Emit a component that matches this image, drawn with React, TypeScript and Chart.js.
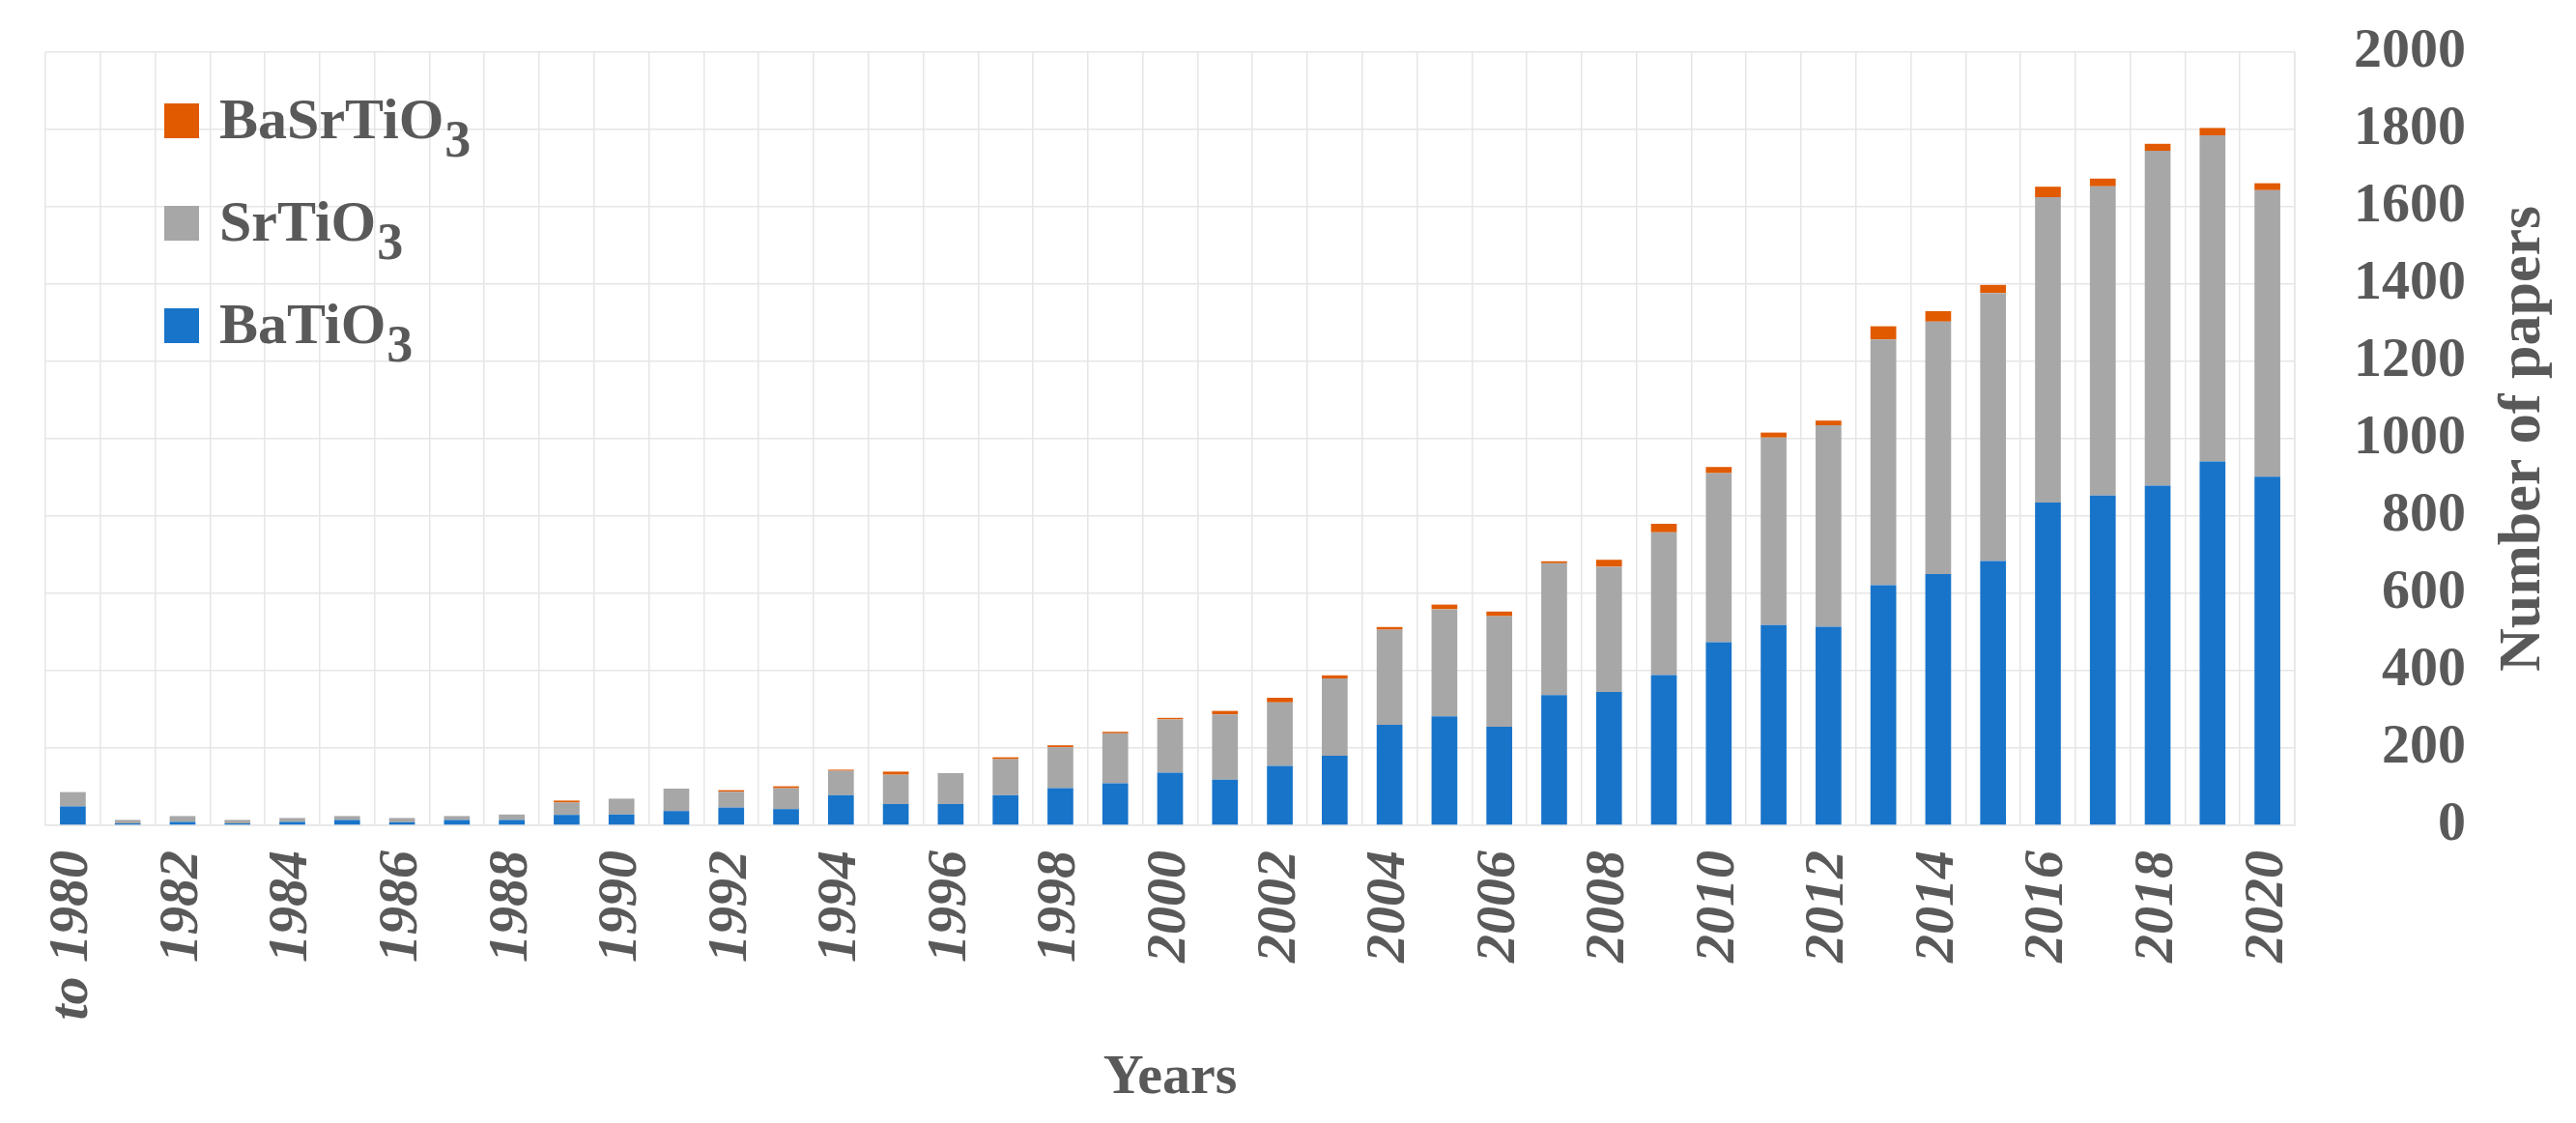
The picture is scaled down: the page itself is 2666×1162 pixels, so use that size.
import React, { useEffect, useRef } from 'react';
import { Chart, registerables } from 'chart.js';

Chart.register(...registerables);

// ---------- data ----------
const years = [
  'to 1980', '1981', '1982', '1983', '1984', '1985', '1986', '1987', '1988', '1989',
  '1990', '1991', '1992', '1993', '1994', '1995', '1996', '1997', '1998', '1999',
  '2000', '2001', '2002', '2003', '2004', '2005', '2006', '2007', '2008', '2009',
  '2010', '2011', '2012', '2013', '2014', '2015', '2016', '2017', '2018', '2019', '2020',
];

const baTiO3 = [
  49, 5, 9, 5, 9, 14, 8, 14, 14, 27,
  28, 37, 46, 42, 78, 55, 55, 78, 96, 109,
  136, 118, 154, 180, 260, 282, 255, 337, 345, 389,
  474, 518, 514, 621, 650, 684, 835, 853, 879, 941, 902,
];

const srTiO3 = [
  37, 9, 15, 9, 10, 10, 11, 10, 14, 32,
  41, 58, 41, 54, 63, 76, 80, 93, 106, 129,
  138, 169, 164, 200, 246, 277, 286, 341, 324, 369,
  437, 485, 521, 636, 653, 693, 790, 800, 866, 844, 741,
];

const baSrTiO3 = [
  0, 0, 0, 0, 0, 0, 0, 0, 0, 5,
  0, 0, 4, 5, 3, 8, 0, 5, 5, 4,
  4, 9, 12, 8, 7, 12, 12, 5, 18, 22,
  16, 13, 12, 34, 27, 21, 27, 20, 18, 19, 18,
];

const seriesNames = ['BaTiO3', 'SrTiO3', 'BaSrTiO3'];
// legend entries (top to bottom): [formula body, subscript]
const legendNames: [string, string][] = [
  ['BaSrTiO', '3'],
  ['SrTiO', '3'],
  ['BaTiO', '3'],
];

const yMin = 0;
const yMax = 2000;
const yStep = 200;
const xTitle = 'Years';
const yTitle = 'Number of papers';

// ---------- styles ----------
const BLUE = '#1874C9';
const GRAY = '#A7A7A7';
const ORANGE = '#E15A00';
const TEXT = '#595959';
const GRID = '#E6E6E6';
const FONT = "'Liberation Serif', 'Times New Roman', serif";

const legendColors = [ORANGE, GRAY, BLUE];

const overlayPlugin = {
  id: 'overlay',
  afterDraw(chart: any) {
    const ctx = chart.ctx;
    const area = chart.chartArea;
    ctx.save();
    // legend
    const size = 60;
    const subSize = 54;
    legendNames.forEach((nm, i) => {
      const top = 107 + i * 106;
      ctx.fillStyle = legendColors[i];
      ctx.fillRect(170, top, 36, 36);
      ctx.fillStyle = TEXT;
      ctx.textAlign = 'left';
      ctx.textBaseline = 'alphabetic';
      ctx.font = `bold ${size}px ${FONT}`;
      const base = top + 36;
      ctx.fillText(nm[0], 227, base);
      const w = ctx.measureText(nm[0]).width;
      ctx.font = `bold ${subSize}px ${FONT}`;
      ctx.fillText(nm[1], 227 + w + 1, base + 19);
    });
    // right axis title, reading bottom to top
    ctx.translate(2612, (area.top + area.bottom) / 2);
    ctx.rotate(-Math.PI / 2);
    ctx.font = `bold 62px ${FONT}`;
    ctx.fillStyle = TEXT;
    ctx.textAlign = 'center';
    ctx.textBaseline = 'middle';
    ctx.fillText(yTitle, 0, 0);
    ctx.restore();
  },
};

export default function App() {
  const ref = useRef<HTMLCanvasElement | null>(null);

  useEffect(() => {
    if (!ref.current) return;
    const chart = new Chart(ref.current, {
      type: 'bar',
      data: {
        labels: years,
        datasets: [
          { label: seriesNames[0], data: baTiO3, backgroundColor: BLUE },
          { label: seriesNames[1], data: srTiO3, backgroundColor: GRAY },
          { label: seriesNames[2], data: baSrTiO3, backgroundColor: ORANGE },
        ].map((d) => ({
          ...d,
          borderWidth: 0,
          categoryPercentage: 1,
          barPercentage: 0.47,
        })),
      },
      options: {
        responsive: false,
        devicePixelRatio: 1,
        animation: false,
        layout: { padding: { left: 47, top: 54, right: 114, bottom: 0 } },
        plugins: {
          legend: { display: false },
          tooltip: { enabled: false },
        },
        scales: {
          x: {
            stacked: true,
            offset: true,
            grid: { color: GRID, lineWidth: 1.5, offset: true, drawTicks: false },
            border: { color: GRID, width: 1.5 },
            ticks: {
              autoSkip: false,
              minRotation: 90,
              maxRotation: 90,
              padding: 26,
              color: TEXT,
              font: { family: FONT, size: 58, style: 'italic', weight: 'bold' },
              callback: (_v: any, i: number) => (i % 2 === 0 ? years[i] : ''),
            },
            title: {
              display: true,
              text: xTitle,
              color: TEXT,
              font: { family: FONT, size: 58, weight: 'bold' },
              padding: { top: 0, bottom: 11 },
            },
            afterFit: (s: any) => {
              s.height = 308;
              s.paddingLeft = 0;
              s.paddingRight = 0;
            },
          },
          y: {
            stacked: true,
            position: 'right',
            min: yMin,
            max: yMax,
            grid: { color: GRID, lineWidth: 1.5, drawTicks: false },
            border: { color: GRID, width: 1.5 },
            ticks: {
              stepSize: yStep,
              padding: 60,
              crossAlign: 'far',
              color: TEXT,
              font: { family: FONT, size: 58, weight: 'bold' },
              callback: (v: any) => String(v),
            },
            afterFit: (s: any) => {
              s.width = 177;
              s.paddingTop = 0;
              s.paddingBottom = 0;
            },
          },
        },
      },
      plugins: [overlayPlugin],
    } as any);
    return () => chart.destroy();
  }, []);

  return (
    <div style={{ position: 'fixed', left: 0, top: 0, width: 2666, height: 1162, background: '#fff' }}>
      <canvas ref={ref} width={2666} height={1162} style={{ width: 2666, height: 1162, display: 'block' }} />
    </div>
  );
}
